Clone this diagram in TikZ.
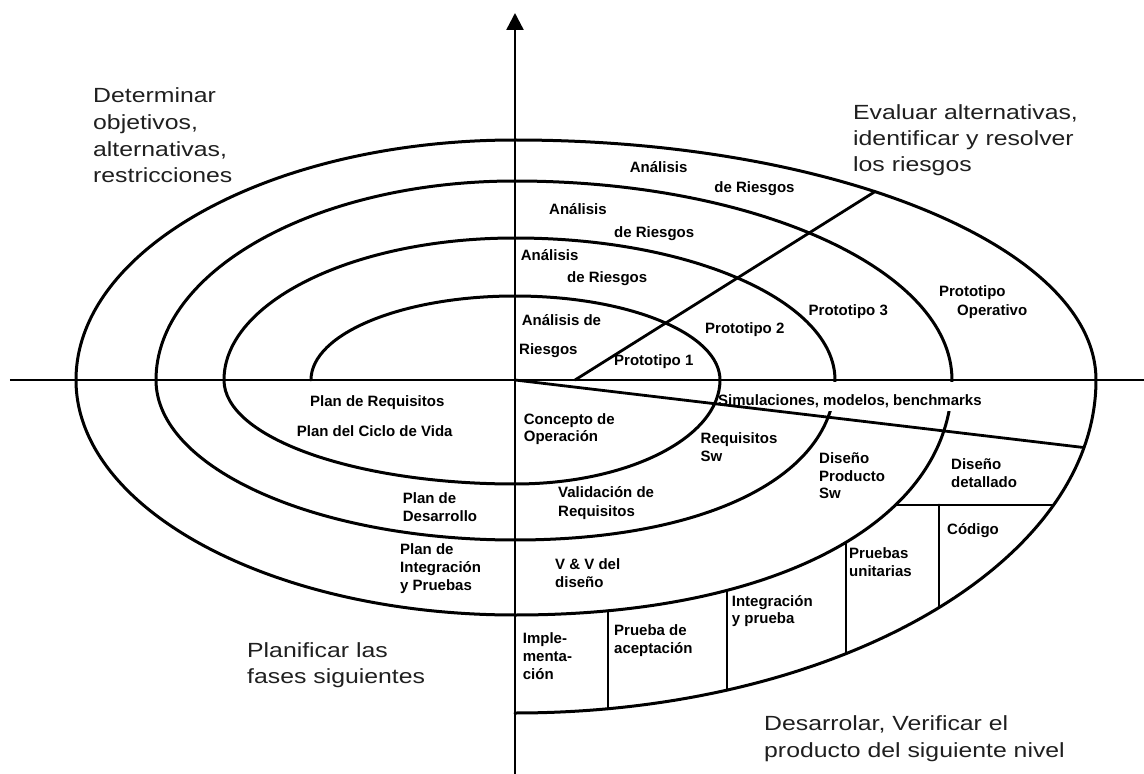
\documentclass[tikz,border=0pt]{standalone}
\usepackage{fontspec}
\setmainfont{Liberation Sans}
\newfontfamily\bigfont{Liberation Sans}[FakeStretch=1.21]
\usetikzlibrary{arrows.meta}
\begin{document}
\begin{tikzpicture}[x=1pt,y=1pt,
  curve/.style={line width=3pt, line cap=round, line join=round},
  axisline/.style={line width=2.4pt},
  sepline/.style={line width=2.8pt, line cap=round},
  big/.style={inner sep=0pt, anchor=base west, text=black!88, font=\bigfont\fontsize{20.5}{26}\selectfont},
  sm/.style={inner sep=0pt, anchor=base west, font=\bfseries\fontsize{15}{18}\selectfont}]
\useasboundingbox (-515,-394) rectangle (629,380);
% spiral
\draw[curve] (-204,0) .. controls (-204,46.4) and (-112.6,84) .. (0,84)
 .. controls (113.2,84) and (205,46.4) .. (205,0)
 .. controls (205,-57.4) and (113.2,-104) .. (0,-104)
 .. controls (-160.6,-104) and (-291,-57.4) .. (-291,0)
 .. controls (-291,78.4) and (-160.6,142) .. (0,142)
 .. controls (176.6,142) and (320,78.4) .. (320,0)
 .. controls (320,-96) and (192,-160) .. (0,-160)
 .. controls (-198.2,-160) and (-359,-88.3) .. (-359,0)
 .. controls (-359,109.8) and (-198.2,199) .. (0,199)
 .. controls (241.2,199) and (437,109.8) .. (437,0)
 .. controls (437,-141) and (262.2,-235) .. (0,-235)
 .. controls (-242.3,-235) and (-439,-129.7) .. (-439,0)
 .. controls (-439,132.5) and (-242.3,240) .. (0,240)
 .. controls (320.7,240) and (581,132.5) .. (581,0)
 .. controls (581,-183.8) and (320.7,-333) .. (0,-333);
% gap under the Simulaciones label
\fill[white] (208.5,-1.5) rectangle (478,-31);
% coordinates
\coordinate (O) at (0,0);
\coordinate (axL) at (-505,0);
\coordinate (axR) at (629,0);
\coordinate (axB) at (0,-394);
\coordinate (axT) at (0,367);
\coordinate (slEnd) at (568.5,-67.5);
\coordinate (dgA) at (60,0);
\coordinate (dgB) at (360,188.4);
\coordinate (hA) at (380.4,-125);
\coordinate (hB) at (538.5,-125);
\coordinate (v4a) at (424,-125);
\coordinate (v4b) at (424,-227.7);
\coordinate (v3a) at (331,-162.5);
\coordinate (v3b) at (331,-273.7);
\coordinate (v2a) at (212,-210.3);
\coordinate (v2b) at (212,-310);
\coordinate (v1a) at (93,-230.8);
\coordinate (v1b) at (93,-328.7);
% axes
\draw[axisline] (axL) -- (axR);
\draw[axisline,-{Triangle[length=17pt,width=17pt]}] (axB) -- (axT);
% straight lines
\draw[sepline] (O) -- (slEnd);
\draw[sepline] (dgA) -- (dgB);
\draw[sepline] (hA) -- (hB);
\draw[sepline] (v4a) -- (v4b);
\draw[sepline] (v3a) -- (v3b);
\draw[sepline] (v2a) -- (v2b);
\draw[sepline] (v1a) -- (v1b);
% texts in image coordinates
\begin{scope}[shift={(-515,380)}, y=-1pt]
\node[big] (b1) at (93,103) {Determinar};
\node[big] (b2) at (93,130) {objetivos,};
\node[big] (b3) at (93,157) {alternativas,};
\node[big] (b4) at (93,183) {restricciones};
\node[big] (b5) at (853,120) {Evaluar alternativas,};
\node[big] (b6) at (853,146) {identificar y resolver};
\node[big] (b7) at (853,172) {los riesgos};
\node[big] (b8) at (247,657) {Planificar las};
\node[big] (b9) at (247,683) {fases siguientes};
\node[big] (b10) at (764,730) {Desarrolar, Verificar el};
\node[big] (b11) at (764,757) {producto del siguiente nivel};
\node[sm] (s1) at (629.7,172.7) {Análisis};
\node[sm] (s2) at (714.3,192.7) {de Riesgos};
\node[sm] (s3) at (549,215) {Análisis};
\node[sm] (s4) at (614,238) {de Riesgos};
\node[sm] (s5) at (520.7,261) {Análisis};
\node[sm] (s6) at (567,283) {de Riesgos};
\node[sm] (s7) at (521.7,326) {Análisis de};
\node[sm] (s8) at (519,354) {Riesgos};
\node[sm] (s9) at (614,365) {Prototipo 1};
\node[sm] (s10) at (705,334) {Prototipo 2};
\node[sm] (s11) at (808.5,316) {Prototipo 3};
\node[sm] (s12) at (938.8,296.7) {Prototipo};
\node[sm] (s13) at (957,316) {Operativo};
\node[sm] (s14) at (718,405) {Simulaciones, modelos, benchmarks};
\node[sm] (s15) at (700.5,443) {Requisitos};
\node[sm] (s16) at (700.5,461) {Sw};
\node[sm] (s17) at (819,463) {Diseño};
\node[sm] (s18) at (819,481) {Producto};
\node[sm] (s19) at (819,498) {Sw};
\node[sm] (s20) at (951,469) {Diseño};
\node[sm] (s21) at (951,487) {detallado};
\node[sm] (s22) at (947,534) {Código};
\node[sm] (s23) at (849,558) {Pruebas};
\node[sm] (s24) at (849,576) {unitarias};
\node[sm] (s25) at (731.7,606) {Integración};
\node[sm] (s26) at (731.7,623) {y prueba};
\node[sm] (s27) at (614,635) {Prueba de};
\node[sm] (s28) at (614,653) {aceptación};
\node[sm] (s29) at (522.7,643) {Imple-};
\node[sm] (s30) at (522.7,661) {menta-};
\node[sm] (s31) at (522.7,679) {ción};
\node[sm] (s32) at (555,569) {V \& V del};
\node[sm] (s33) at (555,587) {diseño};
\node[sm] (s34) at (558,497) {Validación de};
\node[sm] (s35) at (558,516) {Requisitos};
\node[sm] (s36) at (523.7,424) {Concepto de};
\node[sm] (s37) at (523.7,441) {Operación};
\node[sm] (s38) at (310,406.7) {Plan de Requisitos};
\node[sm] (s39) at (296.7,436.7) {Plan del Ciclo de Vida};
\node[sm] (s40) at (402.7,503) {Plan de};
\node[sm] (s41) at (402.7,521.7) {Desarrollo};
\node[sm] (s42) at (400,554) {Plan de};
\node[sm] (s43) at (400,572.7) {Integración};
\node[sm] (s44) at (400,590) {y Pruebas};
\end{scope}
\end{tikzpicture}
\end{document}
